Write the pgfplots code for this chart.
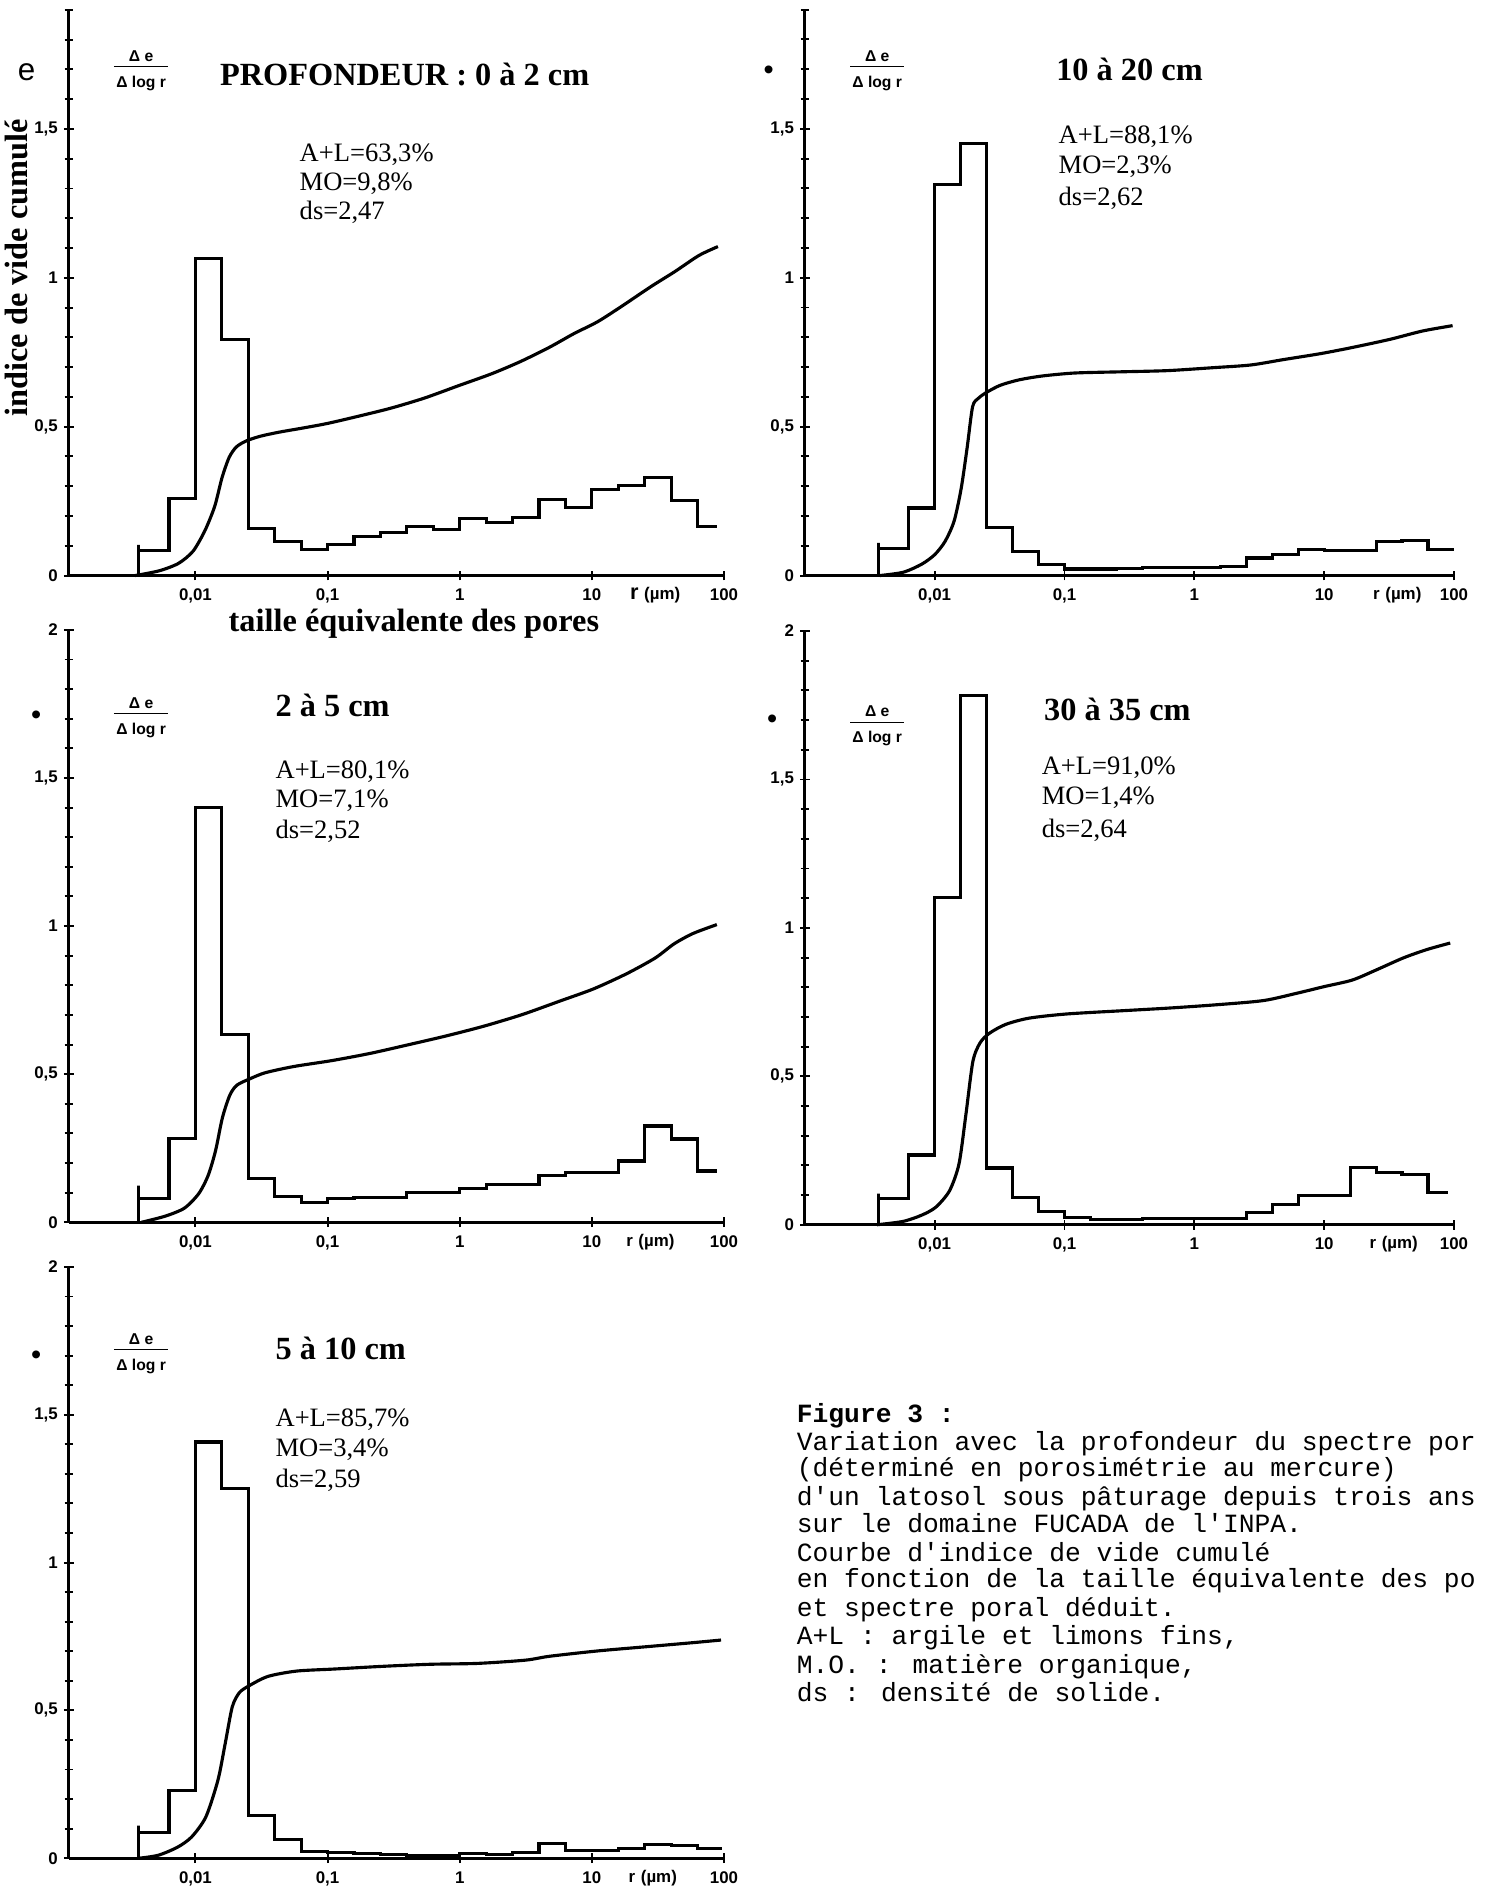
\documentclass[border=0pt]{standalone}
\usepackage{pgfplots}
\pgfplotsset{compat=1.18}
\usepackage{fontspec}
\setmainfont{Liberation Serif}
\setsansfont{Liberation Sans}
\newfontfamily\mono{Liberation Mono}

\pgfplotsset{
  panel/.style={
    scale only axis, xmax=100, ymin=0,
    axis x line*=bottom, axis y line*=left,
    axis line style={line width=1.2pt,-},
    xtick={0.01,0.1,1,10,100},
    xticklabels={{0,01},{0,1},1,10,100},
    xminorticks=false,
    ytick={0,0.5,1,1.5,2},
    yticklabels={0,{0,5},1,{1,5},2},
    minor ytick={0.1,0.2,0.3,0.4,0.6,0.7,0.8,0.9,1.1,1.2,1.3,1.4,1.6,1.7,1.8,1.9},
    tick align=center,
    major tick length=4pt, minor tick length=3.5pt,
    tick style={black, line width=0.8pt},
    tick label style={font=\sffamily\bfseries\fontsize{7}{8}\selectfont},
    yticklabel style={xshift=1pt},
    clip=false,
  },
  histo/.style={black, line width=1.3pt, const plot mark left},
  cumul/.style={black, line width=1.3pt, smooth, tension=0.45},
}
\newcommand{\dfr}{\begin{tabular}{@{\hspace{1pt}}c@{\hspace{1pt}}}\fontsize{6.5}{7}\selectfont\sffamily\bfseries Δ e\\[-1.5pt]\hline\rule{0pt}{7pt}\fontsize{6.5}{7}\selectfont\sffamily\bfseries Δ log r\end{tabular}}

\begin{document}
\begin{tikzpicture}[x=0.5pt,y=0.5pt]
\path[use as bounding box, clip] (0,0) rectangle (1232,1568);

% ---------------- Panel 1 : 0 a 2 cm
\begin{axis}[xmode=log, panel, at={(28.5pt,545.5pt)}, anchor=south west, width=271.5pt, height=234.4pt, xmin=0.0011, ymax=1.9]
\addplot[histo] table {
0.0037 0
0.0037 0.103
0.0037 0.085
0.00631 0.258
0.01 1.066
0.01585 0.792
0.02512 0.158
0.03981 0.114
0.0631 0.088
0.1 0.103
0.1585 0.130
0.2512 0.144
0.3981 0.164
0.631 0.156
1 0.192
1.585 0.178
2.512 0.195
3.981 0.256
6.31 0.229
10 0.290
15.85 0.301
25.12 0.329
39.81 0.253
63.1 0.164
88 0.164
};
\addplot[cumul] table {
0.0035 0
0.00533 0.016
0.00745 0.041
0.0096 0.082
0.0118 0.151
0.014 0.233
0.0159 0.329
0.018 0.397
0.0204 0.432
0.0242 0.452
0.031 0.468
0.0435 0.482
0.066 0.496
0.1 0.511
0.167 0.534
0.30 0.562
0.54 0.596
0.97 0.637
1.75 0.678
2.89 0.719
4.79 0.767
7.28 0.812
11.1 0.853
16.9 0.905
27.9 0.970
42.5 1.021
64.6 1.075
90 1.105
};
\end{axis}

% ---------------- Panel 2 : 10 a 20 cm
\begin{axis}[xmode=log, panel, at={(333.5pt,545.5pt)}, anchor=south west, width=269pt, height=234.5pt, xmin=0.001, ymax=1.9]
\addplot[histo] table {
0.0037 0
0.0037 0.11
0.0037 0.091
0.00631 0.227
0.01 1.312
0.01585 1.451
0.02512 0.162
0.03981 0.080
0.0631 0.038
0.1 0.022
0.1585 0.022
0.2512 0.024
0.3981 0.026
0.631 0.027
1 0.028
1.585 0.030
2.512 0.059
3.981 0.070
6.31 0.087
10 0.083
15.85 0.083
25.12 0.115
39.81 0.118
63.1 0.087
100 0.087
};
\addplot[cumul] table {
0.00379 0
0.00572 0.011
0.00794 0.038
0.01 0.070
0.012 0.114
0.0141 0.182
0.016 0.292
0.0178 0.430
0.0196 0.567
0.0217 0.595
0.0251 0.615
0.0321 0.639
0.0447 0.657
0.0674 0.670
0.12 0.680
0.273 0.684
0.621 0.688
1.41 0.698
2.73 0.707
4.85 0.725
9.36 0.745
16.6 0.766
32.1 0.793
57.2 0.821
97.5 0.839
};
\end{axis}

% ---------------- Panel 3 : 2 a 5 cm
\begin{axis}[xmode=log, panel, at={(28.5pt,277.5pt)}, anchor=south west, width=271.5pt, height=245.5pt, xmin=0.0011, ymax=2]
\addplot[histo] table {
0.0037 0
0.0037 0.124
0.0037 0.079
0.00631 0.284
0.01 1.40
0.01585 0.633
0.02512 0.148
0.03981 0.087
0.0631 0.066
0.1 0.079
0.1585 0.083
0.2512 0.085
0.3981 0.101
0.631 0.101
1 0.113
1.585 0.127
2.512 0.127
3.981 0.159
6.31 0.169
10 0.169
15.85 0.207
25.12 0.325
39.81 0.281
63.1 0.173
88 0.173
};
\addplot[cumul] table {
0.0039 0
0.00593 0.021
0.00826 0.048
0.0106 0.097
0.0125 0.159
0.0142 0.242
0.016 0.353
0.0182 0.429
0.0206 0.463
0.0257 0.484
0.0338 0.505
0.0556 0.526
0.108 0.546
0.209 0.570
0.405 0.599
0.787 0.629
1.52 0.662
2.96 0.701
5.74 0.747
10.3 0.788
18.3 0.839
30.1 0.892
41.9 0.940
58.3 0.975
88.3 1.005
};
\end{axis}

% ---------------- Panel 4 : 30 a 35 cm
\begin{axis}[xmode=log, panel, at={(333.5pt,276.5pt)}, anchor=south west, width=269pt, height=246pt, xmin=0.001, ymax=2]
\addplot[histo] table {
0.0037 0
0.0037 0.105
0.0037 0.087
0.00631 0.235
0.01 1.102
0.01585 1.783
0.02512 0.191
0.03981 0.091
0.0631 0.046
0.1 0.025
0.1585 0.018
0.2512 0.018
0.3981 0.022
0.631 0.022
1 0.022
1.585 0.022
2.512 0.041
3.981 0.069
6.31 0.097
10 0.097
15.85 0.193
25.12 0.177
39.81 0.170
63.1 0.110
90 0.110
};
\addplot[cumul] table {
0.0036 0
0.00569 0.011
0.00792 0.032
0.0102 0.059
0.013 0.114
0.0154 0.205
0.0174 0.371
0.0197 0.550
0.0224 0.613
0.0264 0.645
0.0353 0.675
0.0535 0.696
0.104 0.710
0.281 0.721
0.644 0.730
1.48 0.741
3.39 0.755
6.05 0.779
9.96 0.802
16.4 0.824
24.8 0.857
40.8 0.899
61.8 0.927
93.5 0.949
};
\end{axis}

% ---------------- Panel 5 : 5 a 10 cm
\begin{axis}[xmode=log, panel, at={(28.5pt,14pt)}, anchor=south west, width=271.5pt, height=245pt, xmin=0.0011, ymax=2]
\addplot[histo] table {
0.0037 0
0.0037 0.11
0.0037 0.088
0.00631 0.229
0.01 1.408
0.01585 1.25
0.02512 0.144
0.03981 0.062
0.0631 0.023
0.1 0.018
0.1585 0.016
0.2512 0.013
0.3981 0.010
0.631 0.010
1 0.016
1.585 0.012
2.512 0.019
3.981 0.051
6.31 0.027
10 0.027
15.85 0.033
25.12 0.047
39.81 0.043
63.1 0.033
96 0.033
};
\addplot[cumul] table {
0.00375 0
0.00523 0.010
0.0073 0.037
0.00936 0.072
0.012 0.140
0.0148 0.264
0.0168 0.388
0.019 0.512
0.0215 0.560
0.0254 0.583
0.0354 0.615
0.0582 0.633
0.113 0.640
0.26 0.649
0.597 0.656
1.37 0.659
3.15 0.670
4.77 0.683
11.0 0.701
25.2 0.715
57.8 0.729
95 0.738
};
\end{axis}

% ---------------- texts
\tikzset{myttl/.style={anchor=base west, inner sep=0, font=\bfseries\fontsize{13.4}{14}\selectfont},
         myprm/.style={anchor=base west, inner sep=0, font=\fontsize{11}{12}\selectfont},
         myrum/.style={anchor=base, inner sep=0, font=\sffamily\bfseries\fontsize{7}{8}\selectfont},
         mycap/.style={anchor=base west, inner sep=0, font=\mono\fontsize{10.9}{12}\selectfont},
         mydot/.style={inner sep=0, font=\sffamily\fontsize{12}{12}\selectfont}}

% panel 1
\node[inner sep=0, font=\sffamily\fontsize{13}{13}\selectfont] at (22,1508) {e};
\node[inner sep=0] at (117,1511) {\dfr};
\node[myttl] at (182,1497) {PROFONDEUR : 0 à 2 cm};
\node[myprm] at (248,1434) {A+L=63,3\%};
\node[myprm] at (248,1410) {MO=9,8\%};
\node[myprm] at (248,1386) {ds=2,47};
\node[myrum] at (543,1071) {{\fontsize{9}{9}\selectfont r}\,\,(µm)};
\node[inner sep=0, font=\bfseries\fontsize{13.4}{14}\selectfont] at (343,1051) {taille équivalente des pores};
\node[inner sep=0, rotate=90, font=\bfseries\fontsize{13.4}{14}\selectfont] at (14,1346) {indice de vide cumulé};

% panel 2
\node[mydot] at (637,1508) {•};
\node[inner sep=0] at (727,1511) {\dfr};
\node[myttl] at (875,1501) {10 à 20 cm};
\node[myprm] at (877,1449) {A+L=88,1\%};
\node[myprm] at (877,1424) {MO=2,3\%};
\node[myprm] at (877,1398) {ds=2,62};
\node[myrum] at (1158,1071) {r\,\,(µm)};

% panel 3
\node[mydot] at (30,973) {•};
\node[inner sep=0] at (117,975) {\dfr};
\node[myttl] at (228,974) {2 à 5 cm};
\node[myprm] at (228,923) {A+L=80,1\%};
\node[myprm] at (228,899) {MO=7,1\%};
\node[myprm] at (228,873) {ds=2,52};
\node[myrum] at (539,535) {r\,\,(µm)};

% panel 4
\node[mydot] at (640,970) {•};
\node[inner sep=0] at (727,968) {\dfr};
\node[myttl] at (865,971) {30 à 35 cm};
\node[myprm] at (863,926) {A+L=91,0\%};
\node[myprm] at (863,901) {MO=1,4\%};
\node[myprm] at (863,874) {ds=2,64};
\node[myrum] at (1155,533) {r\,\,(µm)};

% panel 5
\node[mydot] at (30,443) {•};
\node[inner sep=0] at (117,448) {\dfr};
\node[myttl] at (228,441) {5 à 10 cm};
\node[myprm] at (228,386) {A+L=85,7\%};
\node[myprm] at (228,361) {MO=3,4\%};
\node[myprm] at (228,335) {ds=2,59};
\node[myrum] at (541,8) {r\,\,(µm)};

% caption (as far as the reference shows it)
\node[mycap] at (660,389) {\bfseries Figure 3 :};
\node[mycap] at (660,366) {Variation avec la profondeur du spectre por};
\node[mycap] at (660,344) {(déterminé en porosimétrie au mercure)};
\node[mycap] at (660,320) {d\textquotesingle un latosol sous pâturage depuis trois ans};
\node[mycap] at (660,298) {sur le domaine FUCADA de l\textquotesingle INPA.};
\node[mycap] at (660,274) {Courbe d\textquotesingle indice de vide cumulé};
\node[mycap] at (660,252) {en fonction de la taille équivalente des po};
\node[mycap] at (660,228) {et spectre poral déduit.};
\node[mycap] at (660,205) {A+L : argile et limons fins,};
\node[mycap] at (660,181) {M.O. : matière organique,};
\node[mycap] at (660,158) {ds : densité de solide.};
\end{tikzpicture}
\end{document}
